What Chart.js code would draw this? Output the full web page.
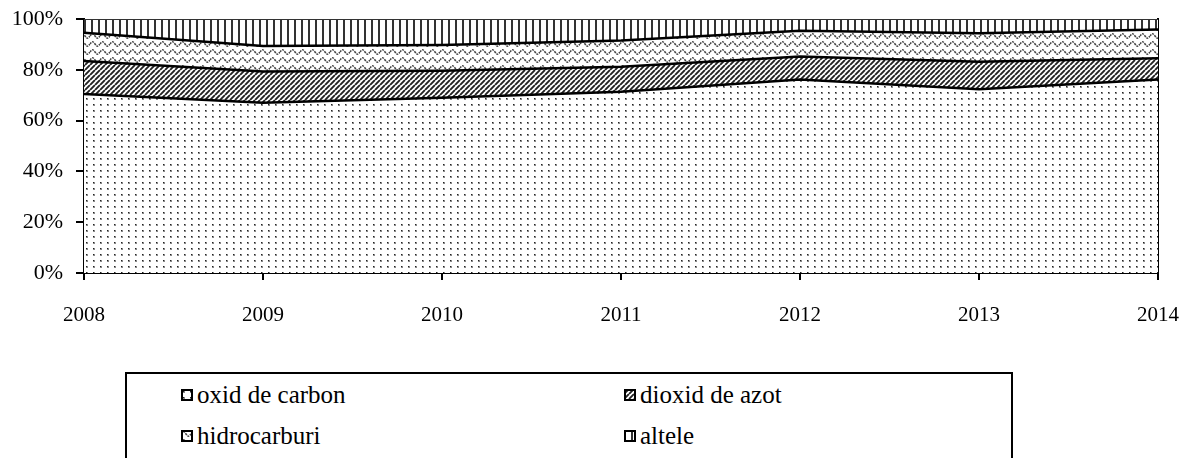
<!DOCTYPE html>
<html lang="ro">
<head>
  <meta charset="UTF-8" />
  <title>Emisii poluanti</title>
  <script src="https://cdn.jsdelivr.net/npm/chart.js"></script>
  <style>
    html, body { margin: 0; padding: 0; background: #fff; }
    body { width: 1184px; height: 458px; position: relative; overflow: hidden; font-family: "Liberation Serif", "Times New Roman", serif; }
    #chart-box { position: absolute; left: 0; top: 0; width: 1184px; height: 345px; }
    #legend {
      position: absolute; left: 125px; top: 372px; width: 888px; height: 100px;
      border: 2px solid #000; box-sizing: border-box;
    }
    .item { position: absolute; font-size: 25px; color: #000; display: flex; align-items: center; height: 28px; line-height: 28px; }
    .item canvas { width: 12px; height: 12px; margin-right: 4px; }
  </style>
</head>
<body>
  <div id="chart-box"><canvas id="chart"></canvas></div>
  <div id="legend"></div>

  <script>
    const years = ["2008", "2009", "2010", "2011", "2012", "2013", "2014"];
    const yTicks = [0, 20, 40, 60, 80, 100];
    // percent shares per year (stack to ~100)
    const oxidCarbon   = [70.5, 67.0, 69.0, 71.4, 76.2, 72.3, 76.2];
    const dioxidAzot   = [13.0, 12.3, 10.6,  9.8,  9.0, 10.9,  8.3];
    const hidrocarburi = [11.1, 10.1, 10.2, 10.3, 10.2, 11.2, 11.4];
    const altele       = [ 5.4, 10.6, 10.2,  8.5,  4.6,  5.6,  4.1];

    // fill patterns (black & white print style)
    function makePattern(kind) {
      const c = document.createElement("canvas");
      const g = c.getContext("2d");
      if (kind === "dots") {
        c.width = 7; c.height = 6;
        g.fillStyle = "#fff"; g.fillRect(0, 0, 7, 6);
        g.fillStyle = "#888"; g.fillRect(2, 2, 2, 2);
        g.fillStyle = "#222"; g.fillRect(2, 2, 1, 1);
      } else if (kind === "diag") {
        c.width = 5; c.height = 5;
        g.fillStyle = "#fff"; g.fillRect(0, 0, 5, 5);
        g.strokeStyle = "#222"; g.lineWidth = 1.9;
        g.beginPath();
        for (let k = -5; k <= 10; k += 5) { g.moveTo(k, 5); g.lineTo(k + 5, 0); }
        g.stroke();
      } else if (kind === "wave") {
        c.width = 10; c.height = 8;
        g.fillStyle = "#fff"; g.fillRect(0, 0, 10, 8);
        g.strokeStyle = "#444"; g.lineWidth = 1.5;
        g.setLineDash([2, 1]);
        g.beginPath();
        g.moveTo(0, 4);
        g.bezierCurveTo(2.5, 1, 2.5, 1, 5, 4);
        g.bezierCurveTo(7.5, 7, 7.5, 7, 10, 4);
        g.stroke();
      } else if (kind === "vert") {
        c.width = 7; c.height = 4;
        g.fillStyle = "#fff"; g.fillRect(0, 0, 7, 4);
        g.fillStyle = "#333"; g.fillRect(0, 0, 2, 4);
      }
      return document.createElement("canvas").getContext("2d").createPattern(c, "repeat");
    }

    const series = [
      { label: "oxid de carbon", data: oxidCarbon, kind: "dots" },
      { label: "dioxid de azot", data: dioxidAzot, kind: "diag" },
      { label: "hidrocarburi", data: hidrocarburi, kind: "wave" },
      { label: "altele", data: altele, kind: "vert" }
    ];

    const family = "'Liberation Serif', 'Times New Roman', serif";

    const ctx = document.getElementById("chart").getContext("2d");
    const chart = new Chart(ctx, {
      type: "line",
      data: {
        labels: years,
        datasets: series.map((s, i) => ({
          label: s.label,
          data: s.data,
          fill: i === 0 ? "origin" : "-1",
          backgroundColor: makePattern(s.kind),
          borderColor: i === 3 ? "#333" : "#000",
          borderWidth: i === 3 ? 2 : 2.5,
          pointRadius: 0,
          tension: 0
        }))
      },
      options: {
        responsive: true,
        maintainAspectRatio: false,
        animation: false,
        layout: { padding: { left: 0, right: 0, top: 19, bottom: 0 } },
        plugins: {
          legend: { display: false },
          tooltip: { enabled: false }
        },
        scales: {
          x: {
            offset: false,
            grid: { drawOnChartArea: false, drawTicks: true, tickLength: 7, color: "#000", lineWidth: 2 },
            border: { display: true, color: "#000", width: 2 },
            ticks: { color: "#000", font: { family: family, size: 21 }, padding: 23, maxRotation: 0, autoSkip: false },
            afterFit: (scale) => { scale.height = 72; scale.paddingRight = 26; scale.paddingLeft = 0; }
          },
          y: {
            stacked: true,
            min: 0,
            max: 100,
            afterBuildTicks: (scale) => { scale.ticks = yTicks.map(v => ({ value: v })); },
            grid: { drawOnChartArea: false, drawTicks: true, tickLength: 8, color: "#000", lineWidth: 2 },
            border: { display: true, color: "#000", width: 2 },
            ticks: { color: "#000", font: { family: family, size: 22 }, padding: 13, callback: (v) => v + "%" },
            afterFit: (scale) => { scale.width = 84; scale.paddingTop = 0; scale.paddingBottom = 0; }
          },
          yRight: {
            position: "right",
            min: 0,
            max: 100,
            grid: { display: false },
            border: { display: true, color: "#000", width: 2 },
            ticks: { display: false },
            afterFit: (scale) => { scale.width = 0; scale.paddingTop = 0; scale.paddingBottom = 0; }
          }
        }
      }
    });

    // legend in a bordered box, two columns
    const legend = document.getElementById("legend");
    const spots = [[54, 7], [497, 7], [54, 48], [497, 48]];
    series.forEach((s, i) => {
      const item = document.createElement("div");
      item.className = "item";
      item.style.left = spots[i][0] + "px";
      item.style.top = spots[i][1] + "px";
      const sw = document.createElement("canvas");
      sw.width = 12; sw.height = 12;
      const g = sw.getContext("2d");
      g.fillStyle = makePattern(s.kind);
      g.fillRect(0, 0, 12, 12);
      g.strokeStyle = "#000"; g.lineWidth = 2;
      g.strokeRect(1, 1, 10, 10);
      item.appendChild(sw);
      item.appendChild(document.createTextNode(s.label));
      legend.appendChild(item);
    });
  </script>
</body>
</html>
